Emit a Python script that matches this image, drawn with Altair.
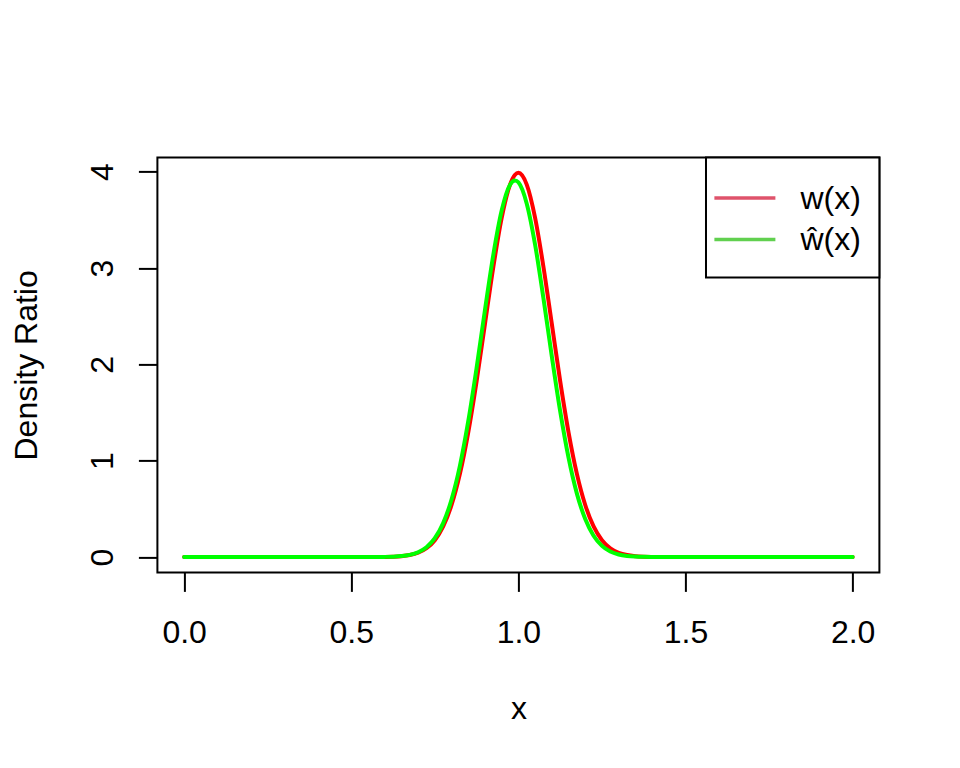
import altair as alt
import pandas as pd

xs = [0.0, 0.25, 0.5, 0.525, 0.55, 0.575, 0.6, 0.625, 0.65, 0.675, 0.7, 0.725, 0.75,
      0.775, 0.8, 0.825, 0.85, 0.875, 0.9, 0.925, 0.95, 0.975, 0.99, 1.0, 1.025, 1.05,
      1.075, 1.1, 1.125, 1.15, 1.175, 1.2, 1.225, 1.25, 1.275, 1.3, 1.325, 1.35, 1.375,
      1.4, 1.425, 1.45, 1.475, 1.5, 1.75, 2.0]
w_true = [0.0, 0.0, 0.0, 0.00005, 0.00016, 0.00048, 0.00134, 0.00353, 0.00873, 0.0203,
          0.0443, 0.0909, 0.175, 0.317, 0.540, 0.863, 1.295, 1.826, 2.420, 3.011, 3.521,
          3.866, 3.969, 3.989, 3.866, 3.521, 3.011, 2.420, 1.826, 1.295, 0.863, 0.540,
          0.317, 0.175, 0.0909, 0.0443, 0.0203, 0.00873, 0.00353, 0.00134, 0.00048,
          0.00016, 0.00005, 0.0, 0.0, 0.0]
w_hat = [0.0, 0.0, 0.0, 0.00005, 0.00016, 0.0005, 0.0014, 0.0038, 0.0095, 0.0223,
         0.0491, 0.101, 0.195, 0.352, 0.597, 0.947, 1.410, 1.965, 2.565, 3.138, 3.597,
         3.865, 3.910, 3.890, 3.668, 3.242, 2.684, 2.083, 1.514, 1.031, 0.658, 0.394,
         0.221, 0.116, 0.057, 0.0263, 0.0113, 0.0046, 0.0017, 0.0006, 0.0002, 0.0001,
         0.0, 0.0, 0.0, 0.0]
x_ticks = [0.0, 0.5, 1.0, 1.5, 2.0]
y_ticks = [0, 1, 2, 3, 4]
legend_labels = ["w(x)", "\u0175(x)"]
legend_colors = ["#DF536B", "#61D04F"]

df_true = pd.DataFrame({"x": xs, "y": w_true})
df_hat = pd.DataFrame({"x": xs, "y": w_hat})

FONT = "Liberation Sans"
W, H = 722, 415

xscale = alt.Scale(domain=[-0.08, 2.08], nice=False, zero=False)
yscale = alt.Scale(domain=[-0.1596, 4.1486], nice=False, zero=False)

xaxis = alt.Axis(values=x_ticks, format=".1f", title="x", grid=False, domain=False,
                 tickSize=19, tickWidth=2, tickColor="black", labelPadding=26,
                 labelFont=FONT, labelFontSize=32, labelColor="black", labelFlush=False,
                 labelOverlap=False, labelBaseline="top",
                 titleFont=FONT, titleFontSize=32, titleFontWeight="normal", titleColor="black",
                 titleX=W / 2, titleY=146, titleBaseline="alphabetic", titleAlign="center")
yaxis = alt.Axis(values=y_ticks, format="d", title="Density Ratio", grid=False, domain=False,
                 tickSize=19, tickWidth=2, tickColor="black", labelPadding=26,
                 labelFont=FONT, labelFontSize=32, labelColor="black", labelAngle=270,
                 labelAlign="center", labelBaseline="alphabetic", labelOverlap=False,
                 labelFlush=False,
                 titleFont=FONT, titleFontSize=32, titleFontWeight="normal", titleColor="black",
                 titleAngle=270, titleX=-121, titleY=H / 2, titleBaseline="alphabetic",
                 titleAlign="center")

red = alt.Chart(df_true).mark_line(color="#FF0000", strokeWidth=4, strokeCap="round",
                                   interpolate="monotone").encode(
    x=alt.X("x:Q", scale=xscale, axis=xaxis),
    y=alt.Y("y:Q", scale=yscale, axis=yaxis),
)
green = alt.Chart(df_hat).mark_line(color="#00FF00", strokeWidth=4, strokeCap="round",
                                    interpolate="monotone").encode(
    x=alt.X("x:Q", scale=xscale),
    y=alt.Y("y:Q", scale=yscale),
)

leg_df = pd.DataFrame({"label": legend_labels, "color": legend_colors, "row": [0, 1]})
one = pd.DataFrame({"a": [0]})

leg_box = alt.Chart(one).mark_rect(fill="white", stroke="black", strokeWidth=2).encode(
    x=alt.value(548.6), x2=alt.value(W), y=alt.value(0), y2=alt.value(120)
)
leg_line1 = alt.Chart(one).mark_rule(color=legend_colors[0], strokeWidth=3.5).encode(
    x=alt.value(557), x2=alt.value(618), y=alt.value(40.5)
)
leg_line2 = alt.Chart(one).mark_rule(color=legend_colors[1], strokeWidth=3.5).encode(
    x=alt.value(557), x2=alt.value(618), y=alt.value(82)
)
leg_text1 = alt.Chart(one).mark_text(font=FONT, fontSize=32, align="left", baseline="middle",
                                     color="black").encode(
    x=alt.value(643), y=alt.value(42), text=alt.value(legend_labels[0])
)
leg_text2 = alt.Chart(one).mark_text(font=FONT, fontSize=32, align="left", baseline="middle",
                                     color="black").encode(
    x=alt.value(643), y=alt.value(83), text=alt.value(legend_labels[1])
)

chart = alt.layer(red, green, leg_box, leg_line1, leg_line2, leg_text1, leg_text2).properties(
    width=W, height=H,
    autosize=alt.AutoSizeParams(type="none"),
    padding={"left": 149.4, "top": 149.4, "right": 72, "bottom": 180},
    background="white",
).configure_view(stroke="black", strokeWidth=2)

chart.save("out.html", embed_options={"renderer": "svg", "actions": False})
